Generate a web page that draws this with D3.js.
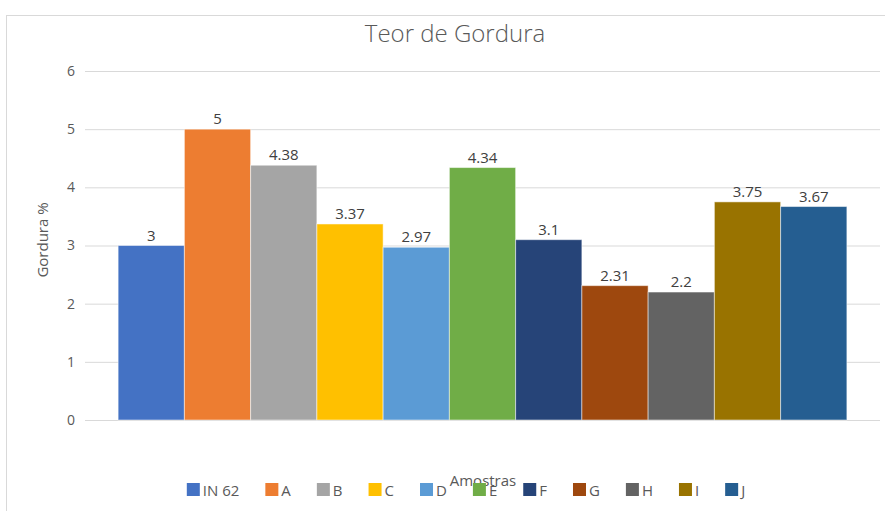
<!DOCTYPE html>
<html><head><meta charset="utf-8">
<script src="https://cdn.jsdelivr.net/npm/d3@7"></script>
<style>body{margin:0;background:#fff}svg{display:block}text{font-family:"Open Sans",sans-serif}</style>
</head><body><svg id="c" width="885" height="511"></svg>
<script>
const categories = ["IN 62","A","B","C","D","E","F","G","H","I","J"];
const values = [3,5,4.38,3.37,2.97,4.34,3.1,2.31,2.2,3.75,3.67];
const colors = ["#4472C4","#ED7D31","#A5A5A5","#FFC000","#5B9BD5","#70AD47","#264478","#9E480E","#636363","#997300","#255E91"];
const yTicks = [0,1,2,3,4,5,6];
const title = "Teor de Gordura", yTitle = "Gordura %", xTitle = "Amostras";

const svg = d3.select("#c");
svg.append("rect").attr("x",6.5).attr("y",15.5).attr("width",890).attr("height",520)
  .attr("fill","#fff").attr("stroke","#d9d9d9");

const L=85,R=880,T=71,B=420;
const y = d3.scaleLinear().domain([0,6]).range([B,T]);
const x = d3.scaleBand().domain(categories).range([L,R]).paddingInner(0).paddingOuter(0.5);

const ya = svg.append("g").attr("transform",`translate(${L},0)`)
  .call(d3.axisLeft(y).tickValues(yTicks).tickSize(-(R-L)).tickPadding(10).tickFormat(d3.format("d")));
ya.select(".domain").remove();
ya.selectAll("line").attr("stroke","#d9d9d9");
ya.selectAll("text").attr("fill","#595959").style("font-size","14px");

svg.append("g").selectAll("rect").data(values).join("rect")
  .attr("x",(d,i)=>x(categories[i])).attr("width",x.bandwidth())
  .attr("y",d=>y(d)).attr("height",d=>B-y(d)).attr("fill",(d,i)=>colors[i])
  .attr("stroke","#fff").attr("stroke-opacity",0.5).attr("stroke-width",1);

svg.append("g").selectAll("text").data(values).join("text")
  .attr("x",(d,i)=>x(categories[i])+x.bandwidth()/2).attr("y",d=>y(d)-5)
  .attr("text-anchor","middle").attr("fill","#404040").style("font-size","15px").text(d=>d);

svg.append("text").attr("x",455).attr("y",42).attr("text-anchor","middle")
  .attr("fill","#595959").style("font-size","24px").style("font-weight","300").text(title);
svg.append("text").attr("transform","translate(48,240) rotate(-90)").attr("text-anchor","middle")
  .attr("fill","#595959").style("font-size","15px").text(yTitle);
svg.append("text").attr("x",483).attr("y",486).attr("text-anchor","middle")
  .attr("fill","#595959").style("font-size","15px").text(xTitle);

const gap = 26;
const lg = svg.append("g");
let cx = 0;
categories.forEach((c,i)=>{
  const g = lg.append("g").attr("transform",`translate(${cx},0)`);
  g.append("rect").attr("width",13).attr("height",13).attr("y",-13).attr("fill",colors[i]);
  const t = g.append("text").attr("x",16).attr("fill","#595959").style("font-size","15px").text(c);
  cx += 16 + t.node().getComputedTextLength() + gap;
});
const total = cx - gap;
lg.attr("transform",`translate(${466 - total/2},496)`);
</script></body></html>
